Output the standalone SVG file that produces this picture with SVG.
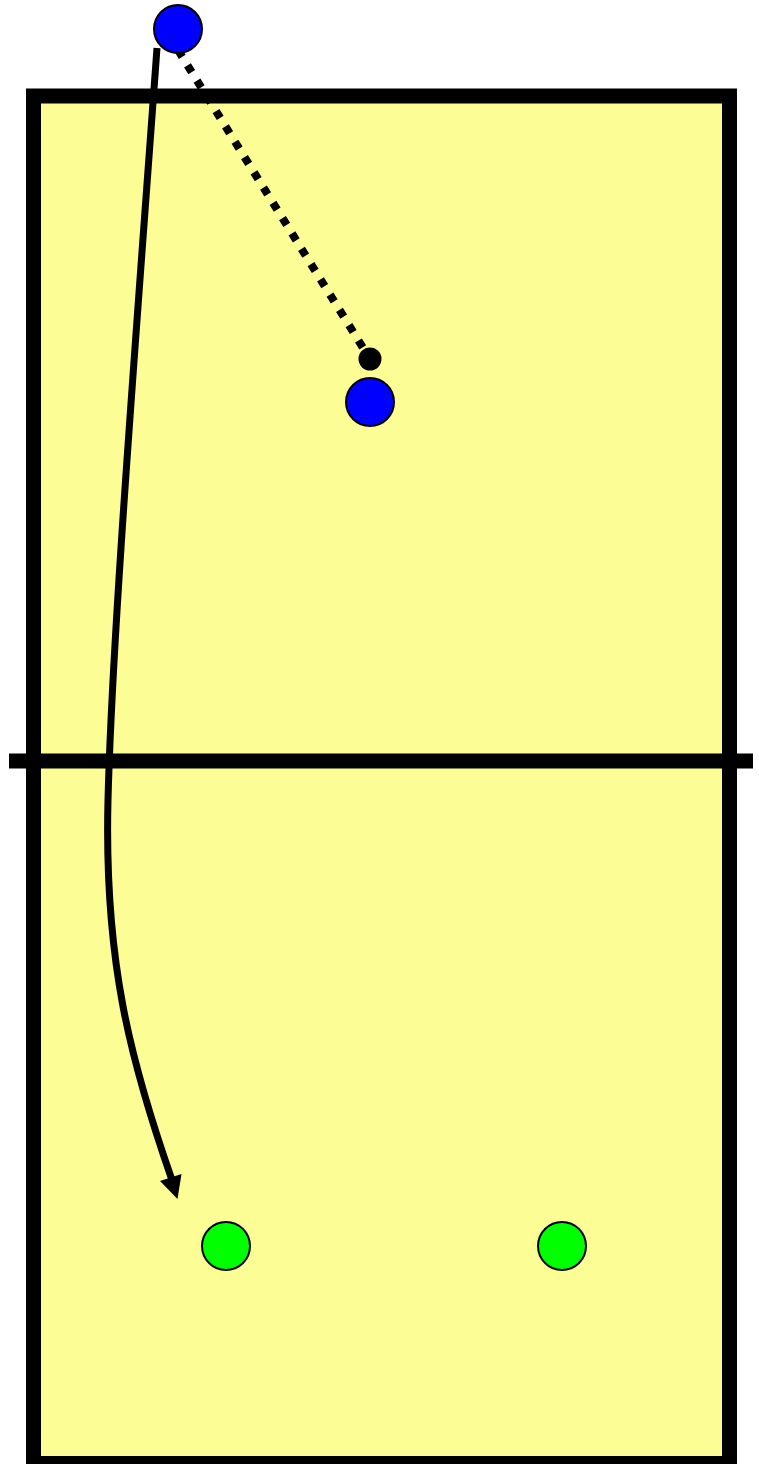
<svg xmlns="http://www.w3.org/2000/svg" width="759" height="1464" viewBox="0 0 759 1464">
<style>
.player{stroke:#000;stroke-width:2}
.blue{fill:#0000ff}
.green{fill:#00ff00}
</style>
<rect width="759" height="1464" fill="#fff"/>
<g id="court">
<rect x="33.5" y="96" width="696" height="1367.5" fill="#fdfd96" stroke="#000" stroke-width="15"/>
<line x1="9" y1="761" x2="753" y2="761" stroke="#000" stroke-width="15"/>
</g>
<g id="connectors">
<path d="M157,48 C135,350 112,640 108,800 C104,960 130,1060 172,1180" fill="none" stroke="#000" stroke-width="7"/>
<polygon points="177.5,1199 160,1181 181.5,1174" fill="#000"/>
<line x1="178" y1="50" x2="365" y2="351" stroke="#000" stroke-width="8" stroke-dasharray="8,10"/>
<circle cx="370" cy="359" r="11.5" fill="#000"/>
</g>
<g id="blue1"><circle class="player blue" cx="178" cy="29" r="24"/></g>
<g id="blue2"><circle class="player blue" cx="370" cy="402" r="24"/></g>
<g id="green1"><circle class="player green" cx="226" cy="1246" r="24"/></g>
<g id="green2"><circle class="player green" cx="562" cy="1246" r="24"/></g>
</svg>
